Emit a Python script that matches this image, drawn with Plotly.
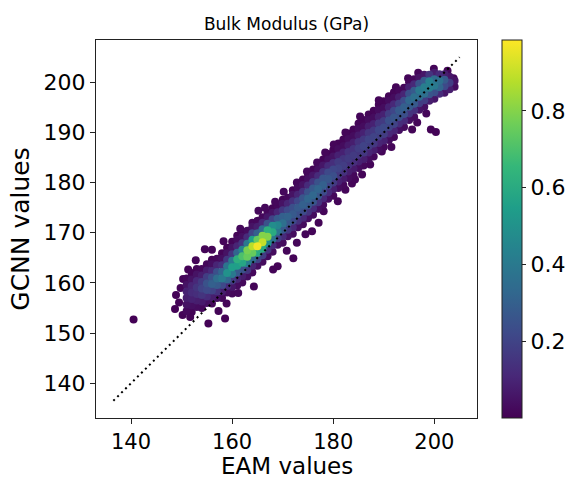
import plotly.graph_objects as go

# ---- data (EAM vs GCNN bulk modulus, GPa) ----
# Dense band: one EAM station per row, with the GCNN values and point densities at it
band_eam = list(range(151, 205))
band_gcnn = [
    [154.4, 155.7, 157.0, 158.3, 159.6, 160.9],
    [154.2, 155.5, 156.8, 158.1, 159.4, 160.7, 162.0],
    [155.2, 156.5, 157.8, 159.1, 160.4, 161.7, 162.8],
    [155.0, 156.3, 157.6, 158.9, 160.2, 161.5, 162.8],
    [156.0, 157.3, 158.6, 159.9, 161.2, 162.5, 163.7],
    [155.9, 157.2, 158.5, 159.8, 161.1, 162.4, 163.7, 164.6],
    [157.0, 158.3, 159.6, 160.9, 162.2, 163.5, 164.8],
    [157.0, 158.3, 159.6, 160.9, 162.2, 163.5, 164.8, 165.9],
    [158.1, 159.4, 160.7, 162.0, 163.3, 164.6, 165.9, 167.0],
    [157.9, 159.2, 160.5, 161.8, 163.1, 164.4, 165.7, 167.0, 168.2],
    [159.5, 160.8, 162.1, 163.4, 164.7, 166.0, 167.3, 168.6, 169.4],
    [160.1, 161.4, 162.7, 164.0, 165.3, 166.6, 167.9, 169.2, 170.2],
    [161.3, 162.6, 163.9, 165.2, 166.5, 167.8, 169.1, 170.4],
    [162.1, 163.4, 164.7, 166.0, 167.3, 168.6, 169.9, 171.2, 172.0],
    [163.4, 164.7, 166.0, 167.3, 168.6, 169.9, 171.2, 172.4],
    [164.2, 165.5, 166.8, 168.1, 169.4, 170.7, 172.0, 173.1],
    [165.3, 166.6, 167.9, 169.2, 170.5, 171.8, 173.1, 174.0],
    [166.2, 167.5, 168.8, 170.1, 171.4, 172.7, 174.0, 174.9],
    [167.6, 168.9, 170.2, 171.5, 172.8, 174.1, 175.3],
    [168.0, 169.3, 170.6, 171.9, 173.2, 174.5, 175.8, 176.6],
    [169.3, 170.6, 171.9, 173.2, 174.5, 175.8, 177.0],
    [169.8, 171.1, 172.4, 173.7, 175.0, 176.3, 177.6, 178.5],
    [171.1, 172.4, 173.7, 175.0, 176.3, 177.6, 178.9, 179.6],
    [171.7, 173.0, 174.3, 175.6, 176.9, 178.2, 179.5, 180.6],
    [172.9, 174.2, 175.5, 176.8, 178.1, 179.4, 180.7, 181.6],
    [173.6, 174.9, 176.2, 177.5, 178.8, 180.1, 181.4, 182.6],
    [174.8, 176.1, 177.4, 178.7, 180.0, 181.3, 182.6, 183.7],
    [175.6, 176.9, 178.2, 179.5, 180.8, 182.1, 183.4, 184.6],
    [176.8, 178.1, 179.4, 180.7, 182.0, 183.3, 184.6, 185.7],
    [177.4, 178.7, 180.0, 181.3, 182.6, 183.9, 185.2, 186.5],
    [178.9, 180.2, 181.5, 182.8, 184.1, 185.4, 186.7, 187.8],
    [179.5, 180.8, 182.1, 183.4, 184.7, 186.0, 187.3, 188.6],
    [180.9, 182.2, 183.5, 184.8, 186.1, 187.4, 188.7, 189.8],
    [181.5, 182.8, 184.1, 185.4, 186.7, 188.0, 189.3, 190.6],
    [182.9, 184.2, 185.5, 186.8, 188.1, 189.4, 190.7, 191.8],
    [183.4, 184.7, 186.0, 187.3, 188.6, 189.9, 191.2, 192.5],
    [184.7, 186.0, 187.3, 188.6, 189.9, 191.2, 192.5, 193.6],
    [185.2, 186.5, 187.8, 189.1, 190.4, 191.7, 193.0, 194.3],
    [186.6, 187.9, 189.2, 190.5, 191.8, 193.1, 194.4, 195.5],
    [187.1, 188.4, 189.7, 191.0, 192.3, 193.6, 194.9, 196.2],
    [188.5, 189.8, 191.1, 192.4, 193.7, 195.0, 196.3, 197.2],
    [189.1, 190.4, 191.7, 193.0, 194.3, 195.6, 196.9, 198.0],
    [190.5, 191.8, 193.1, 194.4, 195.7, 197.0, 198.3],
    [191.1, 192.4, 193.7, 195.0, 196.3, 197.6, 198.9],
    [192.5, 193.8, 195.1, 196.4, 197.7, 199.0, 200.0],
    [193.1, 194.4, 195.7, 197.0, 198.3, 199.6, 200.6],
    [194.5, 195.8, 197.1, 198.4, 199.7, 200.9],
    [195.1, 196.4, 197.7, 199.0, 200.3, 201.5],
    [196.3, 197.6, 198.9, 200.2, 201.5],
    [196.7, 198.0, 199.3, 200.6, 201.9],
    [197.7, 199.0, 200.3, 201.6],
    [197.9, 199.2, 200.5, 201.6],
    [198.6, 199.9, 201.1],
    [199.1, 200.3],
]
band_density = [
    [.02, .05, .08, .09, .05, .02],
    [.01, .04, .09, .12, .10, .05, .01],
    [.03, .08, .13, .15, .11, .05, .01],
    [.02, .07, .15, .20, .17, .08, .02],
    [.04, .12, .22, .25, .18, .08, .02],
    [.02, .08, .20, .30, .25, .12, .04, .01],
    [.04, .14, .28, .35, .24, .10, .02],
    [.02, .08, .22, .40, .32, .14, .04, .01],
    [.03, .12, .32, .50, .38, .16, .05, .01],
    [.02, .06, .18, .40, .55, .40, .15, .05, .01],
    [.03, .10, .28, .55, .62, .32, .10, .03, .01],
    [.02, .08, .25, .58, .70, .45, .15, .04, .01],
    [.04, .15, .42, .75, .78, .40, .12, .03],
    [.02, .10, .35, .75, .88, .55, .20, .05, .02],
    [.04, .20, .60, .97, .75, .30, .08, .02],
    [.03, .18, .60, .90, .80, .35, .10, .02],
    [.03, .15, .50, .80, .62, .25, .06, .02],
    [.03, .12, .38, .60, .48, .20, .05, .01],
    [.04, .18, .38, .45, .28, .10, .02],
    [.03, .12, .28, .36, .30, .16, .05, .01],
    [.05, .16, .27, .31, .22, .10, .02],
    [.03, .11, .22, .28, .24, .14, .05, .01],
    [.04, .14, .24, .28, .21, .10, .03, .01],
    [.03, .11, .23, .30, .26, .14, .05, .01],
    [.04, .15, .27, .32, .25, .12, .04, .01],
    [.03, .12, .26, .33, .28, .16, .06, .01],
    [.04, .15, .27, .32, .25, .12, .04, .01],
    [.03, .11, .23, .30, .26, .15, .06, .01],
    [.04, .12, .21, .27, .22, .12, .04, .01],
    [.02, .08, .17, .24, .21, .13, .05, .01],
    [.03, .09, .16, .20, .17, .09, .03, .01],
    [.02, .07, .14, .18, .15, .09, .03, .01],
    [.03, .08, .14, .17, .14, .07, .03, .01],
    [.02, .07, .13, .17, .14, .08, .03, .01],
    [.03, .09, .15, .18, .14, .07, .03, .01],
    [.02, .08, .16, .20, .16, .09, .03, .01],
    [.03, .10, .17, .20, .15, .08, .03, .01],
    [.02, .08, .16, .20, .16, .09, .03, .01],
    [.03, .10, .18, .21, .16, .08, .03, .01],
    [.02, .09, .18, .22, .17, .09, .03, .01],
    [.03, .11, .20, .24, .18, .09, .03, .01],
    [.02, .10, .20, .26, .21, .11, .03, .01],
    [.04, .13, .24, .28, .19, .08, .02],
    [.03, .12, .24, .30, .23, .10, .02],
    [.04, .15, .28, .33, .24, .09, .02],
    [.03, .14, .28, .36, .28, .11, .02],
    [.05, .18, .34, .40, .25, .05],
    [.04, .18, .36, .42, .28, .06],
    [.08, .26, .42, .43, .15],
    [.06, .24, .40, .34, .08],
    [.12, .32, .36, .12],
    [.06, .22, .28, .08],
    [.08, .18, .06],
    [.03, .05],
]

# Sparse outlying points
out_eam = [140.5, 148.7, 148.9, 149.5, 149.8, 150.3, 150.2, 151.3, 151.7, 152.8,
           154.6, 155.3, 156.0, 157.3, 158.6, 158.9, 158.3, 161.2, 161.6, 164.3,
           165.2, 166.5, 168.5, 168.1, 169.0, 170.8, 172.1, 172.8, 174.5, 175.8,
           177.1, 178.1, 170.2, 172.8, 174.8, 176.8, 178.4, 180.1, 182.4, 182.4,
           183.7, 185.7, 187.3, 185.3, 189.0, 192.4, 194.8, 196.8, 199.9, 202.6,
           203.8, 189.6, 191.5, 195.6, 196.6, 199.3, 200.3, 198.4, 180.9, 184.3]
out_gcnn = [152.7, 154.8, 157.6, 156.1, 159.0, 160.8, 153.6, 162.7, 153.2, 164.5,
            166.7, 151.9, 166.6, 154.4, 152.9, 155.9, 168.3, 158.0, 170.8, 159.3,
            174.4, 175.0, 176.2, 162.7, 163.3, 166.4, 164.9, 168.0, 169.7, 170.3,
            172.0, 174.3, 178.2, 180.0, 182.2, 184.0, 186.0, 187.6, 190.0, 178.6,
            179.8, 181.6, 183.6, 193.2, 196.4, 199.0, 200.8, 201.9, 202.7, 202.3,
            200.8, 186.2, 187.1, 190.6, 192.0, 190.6, 190.1, 193.8, 176.3, 180.6]
out_density = [.003, .005, .006, .008, .008, .008, .006, .006, .01, .01,
               .01, .005, .012, .01, .005, .015, .015, .02, .02, .01,
               .02, .02, .02, .008, .008, .015, .008, .015, .015, .012,
               .01, .015, .02, .02, .02, .02, .015, .015, .012, .015,
               .015, .012, .012, .012, .012, .012, .012, .015, .012, .015,
               .02, .015, .015, .01, .015, .008, .008, .015, .015, .015]

diag_ends = [136.5, 205.0]
axis_range = [133.07, 208.43]
x_ticks = [140, 160, 180, 200]
y_ticks = [140, 150, 160, 170, 180, 190, 200]
cbar_ticks = [0.2, 0.4, 0.6, 0.8]
density_range = [0.0, 0.985]

# ---- assemble points, drawn in order of density (densest on top) ----
pts = []
for xe, ys, ds in zip(band_eam, band_gcnn, band_density):
    for yv, dv in zip(ys, ds):
        pts.append((xe, yv, dv))
for xe, yv, dv in zip(out_eam, out_gcnn, out_density):
    pts.append((xe, yv, dv))
pts.sort(key=lambda p: p[2])
px = [p[0] for p in pts]
py = [p[1] for p in pts]
pc = [p[2] for p in pts]

FONT = "DejaVu Sans"
W, H = 571, 481
ML, MR, MT, MB = 96, 94, 40, 63
plot_w = W - ML - MR
plot_h = H - MT - MB

fig = go.Figure()
fig.add_trace(go.Scatter(
    x=px, y=py, mode="markers", showlegend=False, hoverinfo="skip",
    marker=dict(
        size=8, color=pc, colorscale="Viridis",
        cmin=density_range[0], cmax=density_range[1],
        line=dict(width=0),
        colorbar=dict(
            thickness=20, len=1, lenmode="fraction",
            x=(502 - ML) / plot_w, xanchor="left", xref="paper", xpad=0,
            y=0.5, yanchor="middle", ypad=0,
            outlinewidth=1, outlinecolor="#222",
            ticks="outside", ticklen=4, tickwidth=1, tickcolor="#222",
            tickvals=cbar_ticks, ticktext=[str(t) for t in cbar_ticks],
            tickfont=dict(family=FONT, size=22, color="black"),
        ),
    ),
))
fig.add_trace(go.Scatter(
    x=diag_ends, y=diag_ends, mode="lines", showlegend=False, hoverinfo="skip",
    line=dict(color="black", width=2, dash="2px,3.6px"),
))

axis_common = dict(
    range=axis_range, showgrid=False, zeroline=False, automargin=False,
    showline=True, linecolor="#222", linewidth=1, mirror=True,
    ticks="outside", ticklen=5, tickwidth=1, tickcolor="#222",
)
fig.update_xaxes(**axis_common, tickvals=x_ticks,
                 tickfont=dict(family=FONT, size=21, color="black"))
fig.update_yaxes(**axis_common, tickvals=y_ticks,
                 tickfont=dict(family=FONT, size=22, color="black"),
                 title=dict(text="GCNN values", font=dict(family=FONT, size=25, color="black"), standoff=6))

# x-axis title placed as an annotation, its box resting on the bottom edge
fig.add_annotation(
    text="EAM values", showarrow=False,
    xref="paper", x=0.5, xanchor="center",
    yref="paper", y=-(H - 1 - (MT + plot_h)) / plot_h, yanchor="bottom",
    borderpad=0,
    font=dict(family=FONT, size=23, color="black"),
)

fig.update_layout(
    width=W, height=H,
    margin=dict(l=ML, r=MR, t=MT, b=MB, pad=0, autoexpand=False),
    paper_bgcolor="white", plot_bgcolor="white",
    title=dict(text="Bulk Modulus (GPa)", x=0.5, xref="paper", xanchor="center",
               y=1 - 24 / H, yref="container", yanchor="middle",
               font=dict(family=FONT, size=17, color="black")),
)

fig.write_html("out.html")
